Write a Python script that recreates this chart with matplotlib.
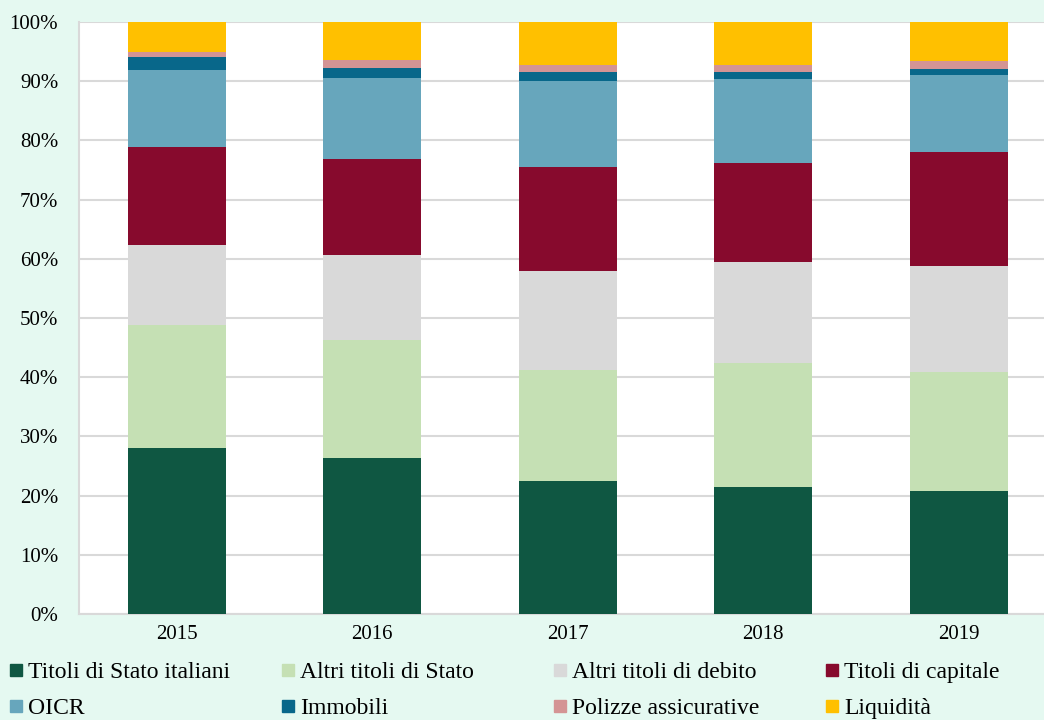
import matplotlib.pyplot as plt
from matplotlib.lines import Line2D
import numpy as np

plt.rcParams['font.family'] = ['Liberation Serif', 'DejaVu Serif']

anni = ["2015", "2016", "2017", "2018", "2019"]

# quote percentuali per categoria (letture dal grafico)
titoli_stato_ita = [28.0, 26.4, 22.5, 21.5, 20.8]
altri_titoli_stato = [20.8, 19.9, 18.7, 20.9, 20.1]
altri_titoli_debito = [13.5, 14.3, 16.7, 17.1, 17.9]
titoli_capitale = [16.6, 16.3, 17.6, 16.7, 19.2]
oicr = [13.0, 13.6, 14.6, 14.1, 13.0]
immobili = [2.2, 1.8, 1.5, 1.3, 1.1]
polizze = [0.9, 1.2, 1.1, 1.1, 1.3]
liquidita = [5.0, 6.5, 7.3, 7.3, 6.6]

nomi = ["Titoli di Stato italiani", "Altri titoli di Stato", "Altri titoli di debito",
        "Titoli di capitale", "OICR", "Immobili", "Polizze assicurative", "Liquidità"]
serie = [titoli_stato_ita, altri_titoli_stato, altri_titoli_debito, titoli_capitale,
         oicr, immobili, polizze, liquidita]
colori = ["#0F5742", "#C5E0B4", "#D9D9D9", "#870A2D",
          "#67A6BC", "#08678A", "#D49494", "#FFC000"]

bg = "#E5F9F1"
fig = plt.figure(figsize=(10.44, 7.2), dpi=100, facecolor=bg)
ax = fig.add_axes([79 / 1044, 1 - 614 / 720, 977.5 / 1044, 592 / 720])
ax.set_facecolor("white")

x = np.arange(len(anni))
base = np.zeros(len(anni))
for vals, col in zip(serie, colori):
    ax.bar(x, vals, bottom=base, width=0.5, color=col, zorder=3)
    base += np.array(vals)

ax.set_xlim(-0.5, 4.5)
ax.set_ylim(0, 100)
ax.set_yticks(np.arange(0, 101, 10))
ax.set_yticklabels([f"{v}%" for v in range(0, 101, 10)])
ax.set_xticks(x)
ax.set_xticklabels(anni)
ax.yaxis.grid(True, color="#D9D9D9", linewidth=1.5, zorder=0)
ax.tick_params(axis="both", length=0, labelsize=15, colors="black")
ax.tick_params(axis="y", pad=15)
ax.tick_params(axis="x", pad=8)
for s in ["top", "right"]:
    ax.spines[s].set_visible(False)
for s in ["bottom", "left"]:
    ax.spines[s].set_color("#D9D9D9")
    ax.spines[s].set_linewidth(1.5)

# legenda: 4 colonne a larghezza fissa, 2 righe
handles = [Line2D([], [], marker="s", linestyle="none", markersize=8,
                  markerfacecolor=c, markeredgecolor=c) for c in colori]
for i in range(4):
    fig.legend([handles[i], handles[i + 4]], [nomi[i], nomi[i + 4]],
               loc="upper left", bbox_to_anchor=((1 + 272 * i) / 1044, 1 - 652 / 720),
               frameon=False, fontsize=17, handlelength=0.5,
               handletextpad=0.25, labelspacing=0.62, borderaxespad=0)

fig.savefig("out.png", dpi=100, facecolor=bg)
